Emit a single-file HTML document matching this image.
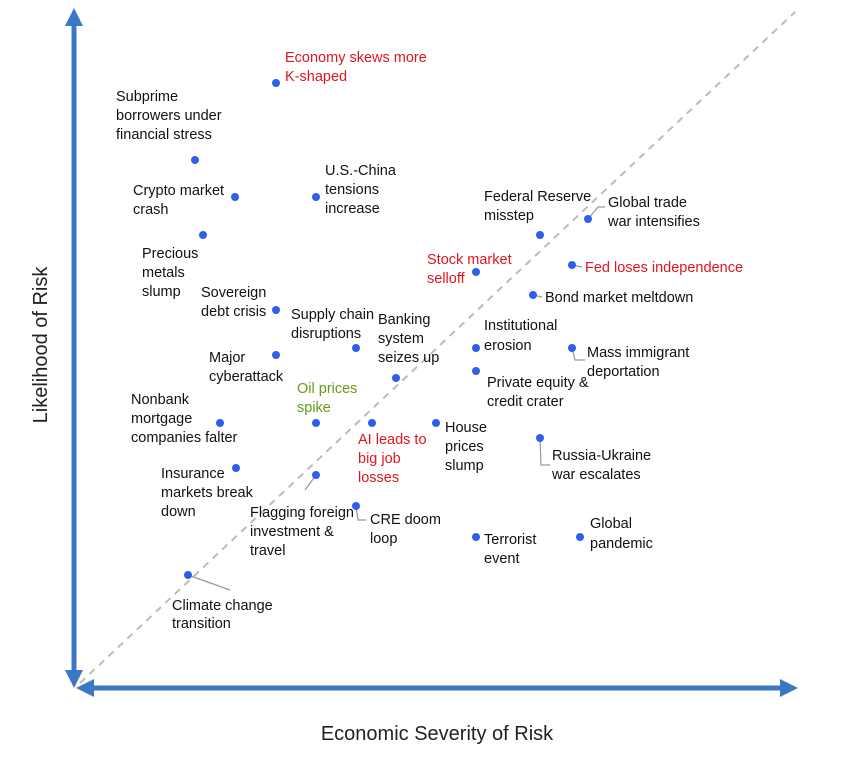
<!DOCTYPE html>
<html><head><meta charset="utf-8"><style>
html,body{margin:0;padding:0;background:#fff;}
svg{display:block;}
text{font-family:"Liberation Sans",sans-serif;font-size:14.5px;fill:#111;}
.r{fill:#e0161e;} .g{fill:#6a9a1a;}
.ax{font-size:20px;fill:#222;}
</style></head><body>
<svg width="845" height="757" viewBox="0 0 845 757" xmlns="http://www.w3.org/2000/svg">
<line x1="80" y1="683" x2="795" y2="12" stroke="#bbb" stroke-width="2" stroke-dasharray="7,6"/>
<g stroke="#3a78c6" stroke-width="5" fill="#3a78c6">
<line x1="74" y1="24" x2="74" y2="672"/>
<line x1="90" y1="688" x2="782" y2="688"/>
</g>
<g fill="#3a78c6">
<polygon points="74,8 65,26 83,26"/>
<polygon points="74,688 65,670 83,670"/>
<polygon points="798,688 780,679 780,697"/>
<polygon points="76,688 94,679 94,697"/>
</g>
<g stroke="#999" stroke-width="1.2" fill="none">
<polyline points="316,475 305,490"/>
<polyline points="356,506 358,520 366,520"/>
<polyline points="188,575 230,590"/>
<polyline points="588,219 598,207 605,207"/>
<polyline points="572,265 582,267"/>
<polyline points="533,295 542,297"/>
<polyline points="572,348 575,360 585,360"/>
<polyline points="540,438 541,465 550,465"/>
</g>
<g fill="#2f5fe8">
<circle cx="276" cy="83" r="4"/><circle cx="195" cy="160" r="4"/><circle cx="235" cy="197" r="4"/>
<circle cx="316" cy="197" r="4"/><circle cx="203" cy="235" r="4"/><circle cx="276" cy="310" r="4"/>
<circle cx="356" cy="348" r="4"/><circle cx="396" cy="378" r="4"/><circle cx="276" cy="355" r="4"/>
<circle cx="316" cy="423" r="4"/><circle cx="220" cy="423" r="4"/><circle cx="372" cy="423" r="4"/>
<circle cx="436" cy="423" r="4"/><circle cx="236" cy="468" r="4"/><circle cx="316" cy="475" r="4"/>
<circle cx="356" cy="506" r="4"/><circle cx="476" cy="537" r="4"/><circle cx="580" cy="537" r="4"/>
<circle cx="188" cy="575" r="4"/><circle cx="540" cy="235" r="4"/><circle cx="588" cy="219" r="4"/>
<circle cx="476" cy="272" r="4"/><circle cx="572" cy="265" r="4"/><circle cx="533" cy="295" r="4"/>
<circle cx="476" cy="348" r="4"/><circle cx="572" cy="348" r="4"/><circle cx="476" cy="371" r="4"/>
<circle cx="540" cy="438" r="4"/>
</g>
<text class="r" x="285" y="62">Economy skews more</text><text class="r" x="285" y="81">K-shaped</text>
<text x="116" y="101">Subprime</text><text x="116" y="120">borrowers under</text><text x="116" y="139">financial stress</text>
<text x="133" y="195">Crypto market</text><text x="133" y="214">crash</text>
<text x="325" y="175">U.S.-China</text><text x="325" y="194">tensions</text><text x="325" y="213">increase</text>
<text x="142" y="258">Precious</text><text x="142" y="277">metals</text><text x="142" y="296">slump</text>
<text x="201" y="297">Sovereign</text><text x="201" y="316">debt crisis</text>
<text x="291" y="319">Supply chain</text><text x="291" y="338">disruptions</text>
<text x="378" y="324">Banking</text><text x="378" y="343">system</text><text x="378" y="362">seizes up</text>
<text x="209" y="362">Major</text><text x="209" y="381">cyberattack</text>
<text class="g" x="297" y="393">Oil prices</text><text class="g" x="297" y="412">spike</text>
<text x="131" y="404">Nonbank</text><text x="131" y="423">mortgage</text><text x="131" y="442">companies falter</text>
<text class="r" x="358" y="444">AI leads to</text><text class="r" x="358" y="463">big job</text><text class="r" x="358" y="482">losses</text>
<text x="445" y="432">House</text><text x="445" y="451">prices</text><text x="445" y="470">slump</text>
<text x="161" y="478">Insurance</text><text x="161" y="497">markets break</text><text x="161" y="516">down</text>
<text x="250" y="517">Flagging foreign</text><text x="250" y="536">investment &amp;</text><text x="250" y="555">travel</text>
<text x="370" y="524">CRE doom</text><text x="370" y="543">loop</text>
<text x="484" y="544">Terrorist</text><text x="484" y="563">event</text>
<text x="590" y="528">Global</text><text x="590" y="548">pandemic</text>
<text x="172" y="610">Climate change</text><text x="172" y="628">transition</text>
<text x="484" y="201">Federal Reserve</text><text x="484" y="220">misstep</text>
<text x="608" y="207">Global trade</text><text x="608" y="226">war intensifies</text>
<text class="r" x="427" y="264">Stock market</text><text class="r" x="427" y="283">selloff</text>
<text class="r" x="585" y="272">Fed loses independence</text>
<text x="545" y="302">Bond market meltdown</text>
<text x="484" y="330">Institutional</text><text x="484" y="350">erosion</text>
<text x="587" y="357">Mass immigrant</text><text x="587" y="376">deportation</text>
<text x="487" y="387">Private equity &amp;</text><text x="487" y="406">credit crater</text>
<text x="552" y="460">Russia-Ukraine</text><text x="552" y="479">war escalates</text>
<text class="ax" x="437" y="740" text-anchor="middle">Economic Severity of Risk</text>
<text class="ax" transform="translate(47,345) rotate(-90)" text-anchor="middle">Likelihood of Risk</text>
</svg>
</body></html>
